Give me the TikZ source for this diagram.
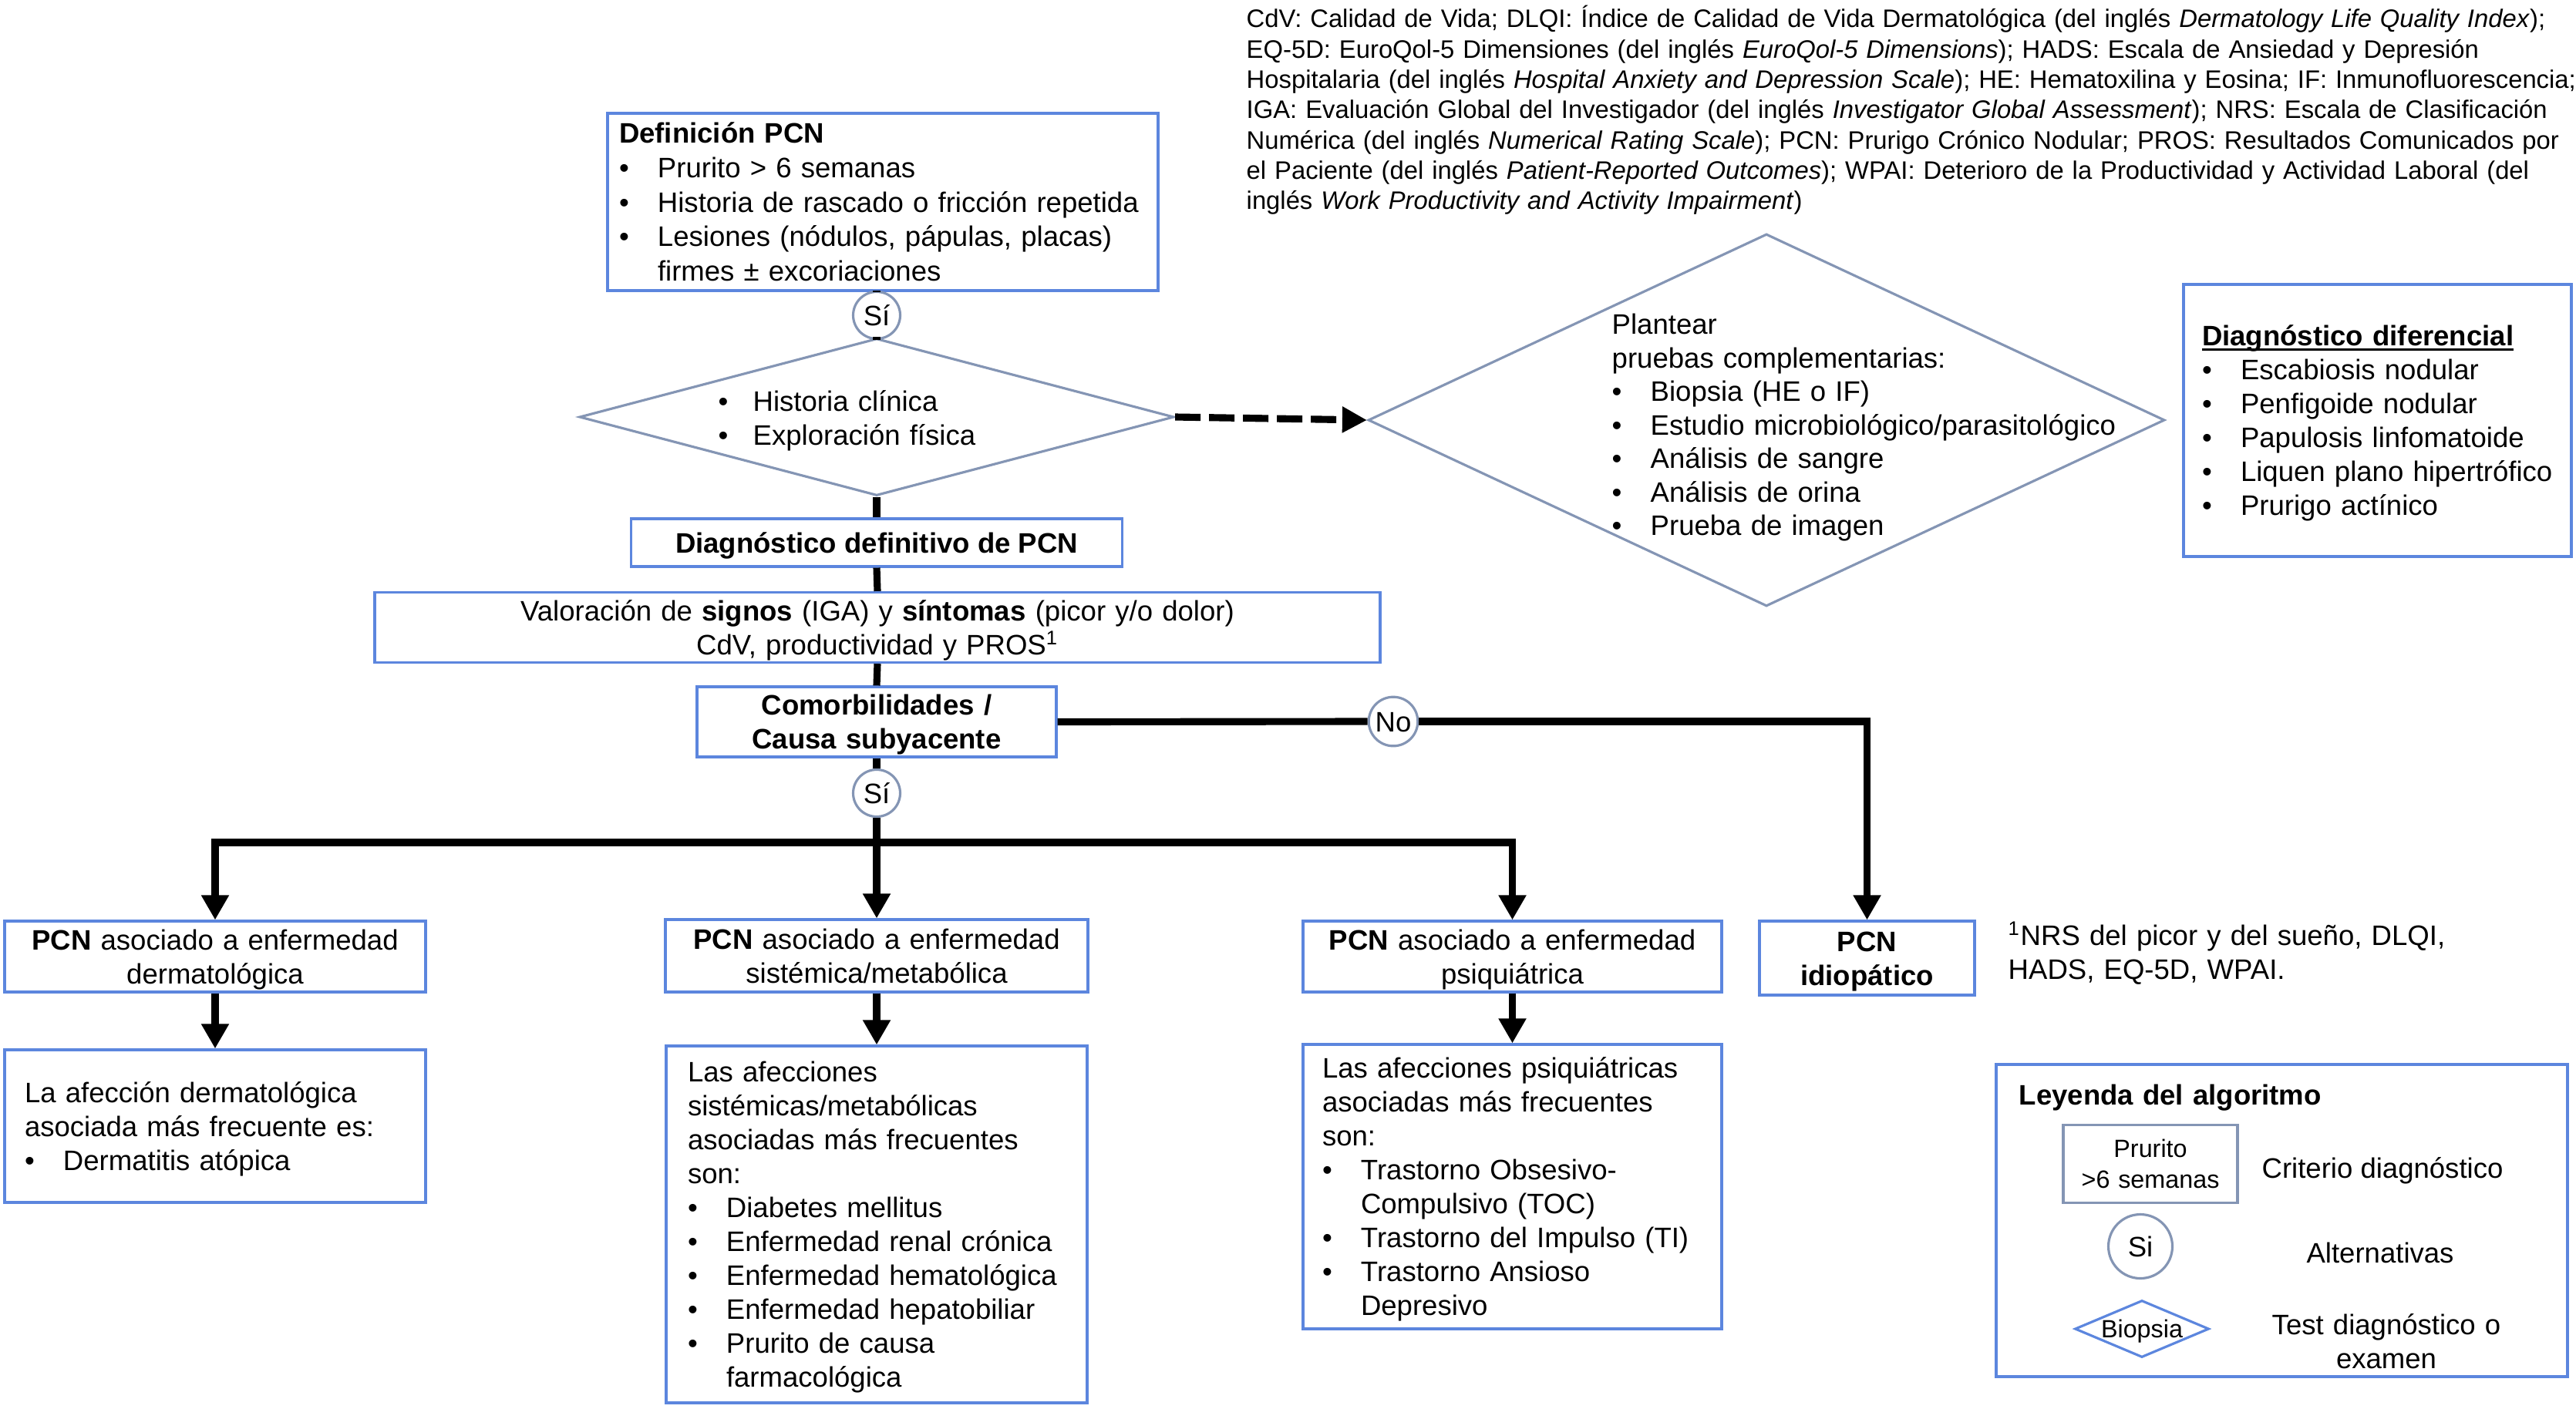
\documentclass[tikz,border=0pt]{standalone}
\usepackage{fontspec}
\setmainfont{Liberation Sans}
\usetikzlibrary{shapes.geometric,arrows.meta,positioning}

\definecolor{azulcaja}{RGB}{92,134,222}
\definecolor{grisazul}{RGB}{132,149,180}

\newcommand{\bul}{\makebox[0.5cm][l]{\textbullet}}
\newcommand{\sang}{\hspace*{0.5cm}}
\newcommand{\subrayado}[1]{\setbox0\hbox{#1}\rlap{\rule[-1.8pt]{\wd0}{0.9pt}}\box0}

\tikzset{
  every node/.style={font=\fontsize{10.4}{12.5}\selectfont,
    execute at begin node=\rule{0pt}{0.95em},
    execute at end node=\rule[-0.23em]{0pt}{0.23em}},
  caja/.style={draw=azulcaja, line width=0.9pt, fill=white, inner xsep=0.25cm, inner ysep=0.02cm},
  alternativa/.style={circle, draw=grisazul, line width=0.9pt, fill=white, inner sep=0pt, minimum size=0.61cm},
  prueba/.style={diamond, draw=grisazul, line width=0.9pt, inner sep=0pt},
  texto/.style={anchor=west, align=left, inner xsep=0pt},
  linea/.style={line width=2.6pt, line join=miter},
  flecha/.style={linea, -{Triangle[length=3.2mm,width=3.4mm]}},
  pequeno/.style={font=\fontsize{9.2}{11.2}\selectfont},
}

\begin{document}
\begin{tikzpicture}[x=1cm,y=1cm]
  \useasboundingbox (0,0) rectangle (33.41,-18.27);

  % abreviaturas
  \node[texto, text width=18.5cm, font=\fontsize{9.33}{11.2}\selectfont] (abrev) at (16.16,-1.42)
    {CdV: Calidad de Vida; DLQI: Índice de Calidad de Vida Dermatológica (del inglés \textit{Dermatology Life Quality Index});\\
     EQ-5D: EuroQol-5 Dimensiones (del inglés \textit{EuroQol-5 Dimensions}); HADS: Escala de Ansiedad y Depresión\\
     Hospitalaria (del inglés \textit{Hospital Anxiety and Depression Scale}); HE: Hematoxilina y Eosina; IF: Inmunofluorescencia;\\
     IGA: Evaluación Global del Investigador (del inglés \textit{Investigator Global Assessment}); NRS: Escala de Clasificación\\
     Numérica (del inglés \textit{Numerical Rating Scale}); PCN: Prurigo Crónico Nodular; PROS: Resultados Comunicados por\\
     el Paciente (del inglés \textit{Patient-Reported Outcomes}); WPAI: Deterioro de la Productividad y Actividad Laboral (del\\
     inglés \textit{Work Productivity and Activity Impairment})};

  % columna principal
  \node[caja, font=\fontsize{10.4}{12.7}\selectfont, inner xsep=0.15cm, text width=6.84cm, minimum height=2.30cm, align=left] (defn) at (11.45,-2.62)
    {\textbf{Definición PCN}\\
     \bul Prurito > 6 semanas\\
     \bul Historia de rascado o fricción repetida\\
     \bul Lesiones (nódulos, pápulas, placas)\\
     \sang firmes ± excoriaciones};
  \node[alternativa] (si1) at (11.37,-4.09) {Sí};
  \node[prueba, minimum width=7.71cm, minimum height=2.04cm] (hist) at (11.37,-5.41) {};
  \node[texto, text width=4cm] (histtxt) at (9.31,-5.42)
    {\makebox[0.45cm][l]{\textbullet}Historia clínica\\
     \makebox[0.45cm][l]{\textbullet}Exploración física};

  \node[prueba, minimum width=10.33cm, minimum height=4.83cm] (pruebas) at (22.91,-5.45) {};
  \node[texto, text width=7cm, font=\fontsize{10.4}{12.4}\selectfont] (pruebastxt) at (20.90,-5.51)
    {Plantear\\
     pruebas complementarias:\\
     \bul Biopsia (HE o IF)\\
     \bul Estudio microbiológico/parasitológico\\
     \bul Análisis de sangre\\
     \bul Análisis de orina\\
     \bul Prueba de imagen};

  \node[caja, inner xsep=0.24cm, text width=4.55cm, minimum height=3.53cm, align=left] (difer) at (30.835,-5.455)
    {\subrayado{\textbf{Diagnóstico diferencial}}\\
     \bul Escabiosis nodular\\
     \bul Penfigoide nodular\\
     \bul Papulosis linfomatoide\\
     \bul Liquen plano hipertrófico\\
     \bul Prurigo actínico};

  \node[caja, minimum width=6.37cm, minimum height=0.62cm] (defin) at (11.37,-7.04)
    {\textbf{Diagnóstico definitivo de PCN}};
  \node[caja, text width=12.54cm, minimum height=0.86cm, align=center] (valor) at (11.38,-8.14)
    {Valoración de \textbf{signos} (IGA) y \textbf{síntomas} (picor y/o dolor)\\
     CdV, productividad y PROS\textsuperscript{1}};
  \node[caja, text width=4.16cm, minimum height=0.87cm, align=center] (comorb) at (11.37,-9.365)
    {\textbf{Comorbilidades /}\\\textbf{Causa subyacente}};
  \node[alternativa] (no) at (18.07,-9.36) {No};
  \node[alternativa] (si2) at (11.37,-10.29) {Sí};
  \coordinate (bus) at (11.37,-10.93);

  % tipos de PCN
  \node[caja, text width=4.96cm, minimum height=0.92cm, align=center] (derm) at (2.79,-12.41)
    {\textbf{PCN} asociado a enfermedad\\dermatológica};
  \node[caja, text width=4.98cm, minimum height=0.94cm, align=center] (sist) at (11.37,-12.40)
    {\textbf{PCN} asociado a enfermedad\\sistémica/metabólica};
  \node[caja, text width=4.93cm, minimum height=0.92cm, align=center] (psiq) at (19.615,-12.41)
    {\textbf{PCN} asociado a enfermedad\\psiquiátrica};
  \node[caja, text width=2.29cm, minimum height=0.96cm, align=center] (idio) at (24.215,-12.43)
    {\textbf{PCN}\\\textbf{idiopático}};

  \node[texto, text width=6cm] (nota) at (26.04,-12.35)
    {\textsuperscript{1}NRS del picor y del sueño, DLQI,\\HADS, EQ-5D, WPAI.};

  % afecciones asociadas
  \node[caja, inner xsep=0.26cm, text width=4.94cm, minimum height=1.98cm, align=left] (dermd) at (2.79,-14.61)
    {La afección dermatológica\\
     asociada más frecuente es:\\
     \bul Dermatitis atópica};
  \node[caja, inner xsep=0.28cm, text width=4.90cm, minimum height=4.63cm, align=left] (sistd) at (11.37,-15.885)
    {Las afecciones\\
     sistémicas/metabólicas\\
     asociadas más frecuentes\\
     son:\\
     \bul Diabetes mellitus\\
     \bul Enfermedad renal crónica\\
     \bul Enfermedad hematológica\\
     \bul Enfermedad hepatobiliar\\
     \bul Prurito de causa\\
     \sang farmacológica};
  \node[caja, inner xsep=0.25cm, text width=4.93cm, minimum height=3.69cm, align=left] (psiqd) at (19.615,-15.395)
    {Las afecciones psiquiátricas\\
     asociadas más frecuentes\\
     son:\\
     \bul Trastorno Obsesivo-\\
     \sang Compulsivo (TOC)\\
     \bul Trastorno del Impulso (TI)\\
     \bul Trastorno Ansioso\\
     \sang Depresivo};

  % leyenda
  \node[caja, minimum width=7.41cm, minimum height=4.05cm] (leyenda) at (29.595,-15.835) {};
  \node[texto, text width=5cm] (leytit) at (26.18,-14.20) {\textbf{Leyenda del algoritmo}};
  \node[draw=grisazul, line width=0.9pt, inner xsep=0.1cm, text width=2.06cm, minimum height=0.96cm, align=center, pequeno] (leycaja) at (27.89,-15.10)
    {Prurito\\>6 semanas};
  \node (leycajatxt) at (30.90,-15.15) {Criterio diagnóstico};
  \node[alternativa, minimum size=0.83cm] (leycirc) at (27.76,-16.17) {Si};
  \node (leycirctxt) at (30.87,-16.25) {Alternativas};
  \node[diamond, draw=azulcaja, line width=0.9pt, minimum width=1.74cm, minimum height=0.74cm, inner sep=0pt] (leydia) at (27.78,-17.24) {};
  \node[pequeno] (leydiatxt) at (leydia) {Biopsia};
  \node[text width=3.4cm, align=center] (leytest) at (30.95,-17.40) {Test diagnóstico o\\examen};

  % conectores
  \draw[linea] (si1.north |- defn.south) -- (si1.north);
  \draw[linea] (si1.south) -- (hist.north);
  \draw[linea, dash pattern=on 0.33cm off 0.11cm, -{Triangle[length=3.2mm,width=3.2mm]}] (hist.east) -- (pruebas.west);
  \draw[linea] (hist.south) -- (defin.north);
  \draw[linea] (defin.south) -- (valor.north);
  \draw[linea] (valor.south) -- (comorb.north);
  \draw[linea] (comorb.east) -- (no.west);
  \draw[flecha] (no.east) -| (idio.north);
  \draw[linea] (comorb.south) -- (si2.north);
  \draw[linea] (si2.south) -- (bus);
  \draw[flecha] (bus) -| (derm.north);
  \draw[flecha] (bus) -- (sist.north);
  \draw[flecha] (bus) -| (psiq.north);
  \draw[flecha] (derm.south) -- (dermd.north);
  \draw[flecha] (sist.south) -- (sistd.north);
  \draw[flecha] (psiq.south) -- (psiqd.north);
\end{tikzpicture}
\end{document}
